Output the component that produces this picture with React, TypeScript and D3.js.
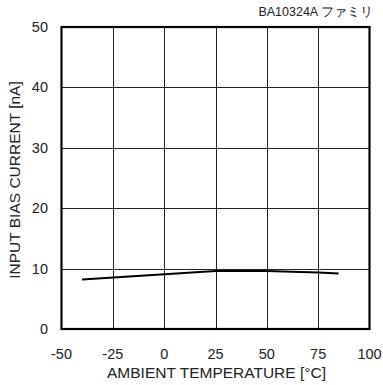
import React, { useEffect, useRef } from "react"
import * as d3 from "d3"

const temps = [-40, 25, 50, 75, 85]
const biasCurrent = [8.2, 9.6, 9.6, 9.35, 9.2]
const xTicks = [-50, -25, 0, 25, 50, 75, 100]
const yTicks = [0, 10, 20, 30, 40, 50]

const App = () => {
  const ref = useRef<SVGSVGElement | null>(null)

  useEffect(() => {
    const svg = d3.select(ref.current)
    svg.selectAll("*").remove()

    const font = "'Liberation Sans', Arial, sans-serif"
    const x = d3.scaleLinear().domain([-50, 100]).range([61.5, 369.5])
    const y = d3.scaleLinear().domain([0, 50]).range([329, 27])

    // grid
    const grid = svg.append("g").attr("stroke", "#222").attr("stroke-width", 1)
    grid
      .selectAll("line.v")
      .data(xTicks.slice(1, -1))
      .join("line")
      .attr("x1", (d) => Math.round(x(d)) + 0.5)
      .attr("x2", (d) => Math.round(x(d)) + 0.5)
      .attr("y1", y(0))
      .attr("y2", y(50))
    grid
      .selectAll("line.h")
      .data(yTicks.slice(1, -1))
      .join("line")
      .attr("x1", x(-50))
      .attr("x2", x(100))
      .attr("y1", (d) => Math.round(y(d)) + 0.5)
      .attr("y2", (d) => Math.round(y(d)) + 0.5)

    // frame
    svg
      .append("rect")
      .attr("x", x(-50))
      .attr("y", y(50))
      .attr("width", x(100) - x(-50))
      .attr("height", y(0) - y(50))
      .attr("fill", "none")
      .attr("stroke", "#000")
      .attr("stroke-width", 2.2)

    // data line
    const pts = temps.map((t, i) => [t, biasCurrent[i]] as [number, number])
    svg
      .append("path")
      .datum(pts)
      .attr("fill", "none")
      .attr("stroke", "#000")
      .attr("stroke-width", 2)
      .attr(
        "d",
        d3
          .line<[number, number]>()
          .x((d) => x(d[0]))
          .y((d) => y(d[1]))
      )

    // tick labels
    svg
      .append("g")
      .selectAll("text")
      .data(xTicks)
      .join("text")
      .attr("x", (d) => x(d))
      .attr("y", 358.5)
      .attr("text-anchor", "middle")
      .attr("font-family", font)
      .attr("font-size", 14.5)
      .attr("fill", "#222")
      .text((d) => d)

    svg
      .append("g")
      .selectAll("text")
      .data(yTicks)
      .join("text")
      .attr("x", 48)
      .attr("y", (d) => y(d) + 5)
      .attr("text-anchor", "end")
      .attr("font-family", font)
      .attr("font-size", 14.5)
      .attr("fill", "#222")
      .text((d) => d)

    // axis titles
    svg
      .append("text")
      .attr("x", 216.5)
      .attr("y", 377.5)
      .attr("text-anchor", "middle")
      .attr("font-family", font)
      .attr("font-size", 15.5)
      .attr("fill", "#222")
      .text("AMBIENT TEMPERATURE [°C]")

    svg
      .append("text")
      .attr("transform", "translate(20,180) rotate(-90)")
      .attr("text-anchor", "middle")
      .attr("font-family", font)
      .attr("font-size", 15.5)
      .attr("fill", "#222")
      .text("INPUT BIAS CURRENT [nA]")

    svg
      .append("text")
      .attr("x", 373)
      .attr("y", 16)
      .attr("text-anchor", "end")
      .attr("font-family", font)
      .attr("font-size", 12.5)
      .attr("fill", "#222")
      .text("BA10324A ファミリ")
  }, [])

  return (
    <svg
      ref={ref}
      width={383}
      height={385}
      style={{ position: "absolute", left: 0, top: 0, background: "#fff" }}
    ></svg>
  )
}

export default App
